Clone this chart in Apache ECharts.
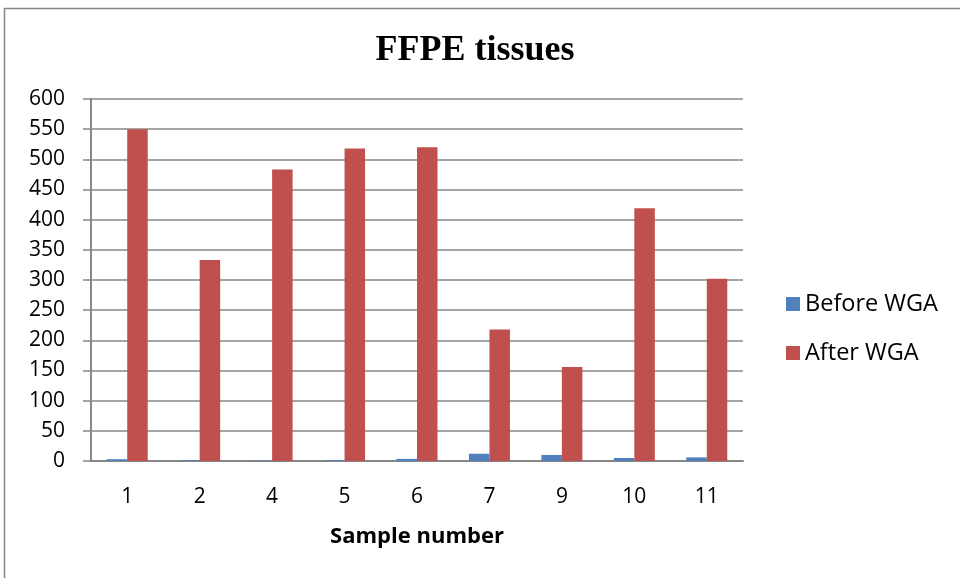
<!DOCTYPE html>
<html>
<head>
<meta charset="utf-8">
<script src="https://cdn.jsdelivr.net/npm/echarts@6/dist/echarts.min.js"></script>
<style>
  html, body { margin: 0; padding: 0; background: #fff; }
  #chart { width: 960px; height: 578px; }
</style>
</head>
<body>
<div id="chart"></div>
<script>
// Sample numbers on the x axis
const samples = ['1', '2', '4', '5', '6', '7', '9', '10', '11'];
// Measured values per sample
const beforeWGA = [3, 1.5, 0.5, 1.5, 3.5, 12, 10, 5, 6];
const afterWGA = [550, 333, 483, 518, 520, 218, 156, 419, 302];
// Y axis range
const yMin = 0, yMax = 600, yStep = 50;

const font = '"Open Sans", sans-serif';
const gray = '#878787';

const chart = echarts.init(document.getElementById('chart'));
chart.setOption({
  animation: false,
  backgroundColor: '#fff',
  graphic: [{
    type: 'rect',
    shape: { x: 4.5, y: 8.5, width: 1100, height: 1100 },
    style: { fill: 'none', stroke: gray, lineWidth: 1.5 },
    silent: true
  }],
  title: {
    text: 'FFPE tissues',
    left: 470, top: 28, textAlign: 'center',
    textStyle: { fontFamily: '"Liberation Serif", serif', fontWeight: 'bold', fontSize: 36, color: '#000' }
  },
  legend: {
    orient: 'vertical',
    left: 781, top: 287,
    itemWidth: 14, itemHeight: 14, itemGap: 25,
    icon: 'rect',
    textStyle: { fontFamily: font, fontSize: 23.5, color: '#000' },
    data: ['Before WGA', 'After WGA']
  },
  grid: { left: 91, right: 217, top: 99, bottom: 117, containLabel: false },
  xAxis: {
    type: 'category',
    data: samples,
    name: 'Sample number',
    nameLocation: 'middle',
    nameGap: 65,
    nameTextStyle: { fontFamily: font, fontWeight: 'bold', fontSize: 22, color: '#000' },
    axisLine: { lineStyle: { color: gray, width: 2 } },
    axisTick: { show: false },
    axisLabel: { fontFamily: font, fontSize: 21, color: '#000', margin: 26 }
  },
  yAxis: {
    type: 'value',
    min: yMin, max: yMax, interval: yStep,
    axisLine: { show: true, lineStyle: { color: gray, width: 2 } },
    axisTick: { show: true, length: 8, lineStyle: { color: gray, width: 1.5 } },
    axisLabel: { fontFamily: font, fontSize: 21, color: '#000', margin: 26 },
    splitLine: { lineStyle: { color: gray, width: 1.5 } }
  },
  series: [
    {
      name: 'Before WGA', type: 'bar', data: beforeWGA,
      barWidth: 20.5, barGap: '0%',
      itemStyle: { color: '#4F81BD' }
    },
    {
      name: 'After WGA', type: 'bar', data: afterWGA,
      barWidth: 20.5, barGap: '0%',
      itemStyle: { color: '#C0504D' }
    }
  ]
});
</script>
</body>
</html>
